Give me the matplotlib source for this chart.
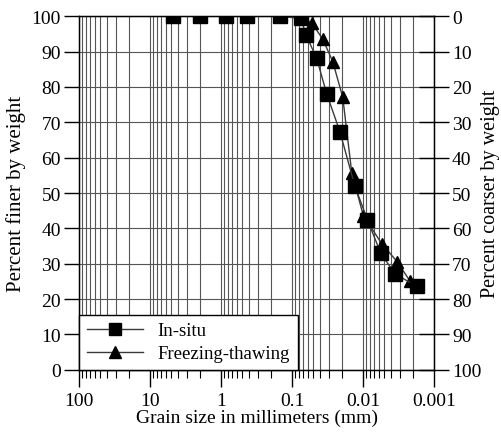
import numpy as np
import matplotlib
matplotlib.use('Agg')
import matplotlib.pyplot as plt
import matplotlib.ticker as ticker
from matplotlib.lines import Line2D

plt.rcParams['font.family'] = ['Liberation Serif', 'DejaVu Serif']
plt.rcParams['font.size'] = 14

# grain size (mm) and percent finer
insitu_size = [4.75, 2.0, 0.85, 0.425, 0.15, 0.075, 0.0635, 0.0449, 0.0324,
               0.0211, 0.0130, 0.00865, 0.00564, 0.00354, 0.00175]
insitu_pct = [100, 100, 100, 100, 100, 99.4, 94.7, 88.1, 78.0,
              67.3, 51.9, 42.4, 33.0, 27.1, 23.6]

ft_size = [4.75, 2.0, 0.85, 0.425, 0.15, 0.075, 0.0528, 0.0370, 0.0267,
           0.0193, 0.0144, 0.0099, 0.00546, 0.00332, 0.00218]
ft_pct = [100, 100, 100, 100, 100, 100, 98.1, 93.6, 87.2,
          77.1, 55.7, 43.6, 35.7, 30.6, 25.1]

x_ticks = [100, 10, 1, 0.1, 0.01, 0.001]
x_labels = ['100', '10', '1', '0.1', '0.01', '0.001']
y_ticks = list(range(0, 101, 10))

fig = plt.figure(figsize=(5.01, 4.35), dpi=100)
ax = fig.add_axes([0.1577, 0.1478, 0.7086, 0.8124])

line_col = '#3a3a3a'
ax.plot(ft_size, ft_pct, color=line_col, lw=1.0, marker='^', ms=9,
        mfc='black', mec='black', zorder=3)
ax.plot(insitu_size, insitu_pct, color=line_col, lw=1.0, marker='s', ms=9.5,
        mfc='black', mec='black', zorder=4)

ax.set_xscale('log')
ax.set_xlim(100, 0.001)
ax.set_ylim(0, 100)
ax.xaxis.set_major_locator(ticker.FixedLocator(x_ticks))
ax.xaxis.set_major_formatter(ticker.FixedFormatter(x_labels))
ax.xaxis.set_minor_locator(ticker.LogLocator(base=10, subs=np.arange(2, 10), numticks=20))
ax.xaxis.set_minor_formatter(ticker.NullFormatter())
ax.set_yticks(y_ticks)

ax.grid(True, which='both', axis='x', color='#555555', lw=0.8)
ax.grid(True, which='major', axis='y', color='#555555', lw=0.8)
ax.set_axisbelow(True)

ax.tick_params(axis='x', which='major', direction='out', length=12, width=1, pad=4)
ax.tick_params(axis='x', which='minor', direction='out', length=6, width=0.8)
ax.tick_params(axis='y', which='major', direction='out', length=11, width=1, pad=2)
for s in ax.spines.values():
    s.set_linewidth(1.0)

ax.set_xlabel('Grain size in millimeters (mm)', labelpad=0)
ax.set_ylabel('Percent finer by weight', fontsize=15, labelpad=4)

# right axis: percent coarser
ax2 = ax.twinx()
ax2.set_ylim(100, 0)
ax2.set_yticks(y_ticks)
ax2.tick_params(axis='y', direction='inout', length=22, width=1, pad=2)
ax2.set_ylabel('Percent coarser by weight', fontsize=14.5, labelpad=0)

handles = [
    Line2D([], [], color=line_col, lw=1.0, marker='s', ms=8, mfc='black', mec='black'),
    Line2D([], [], color=line_col, lw=1.0, marker='^', ms=8, mfc='black', mec='black'),
]
leg = ax.legend(handles, ['In-situ', 'Freezing-thawing'], loc='lower left',
                borderaxespad=0, fancybox=False, framealpha=1, edgecolor='black',
                handlelength=3.0, fontsize=13.5, borderpad=0.4, labelspacing=0.3)
leg.get_frame().set_linewidth(1.0)
leg.set_zorder(10)

fig.savefig('out.png', dpi=100)
